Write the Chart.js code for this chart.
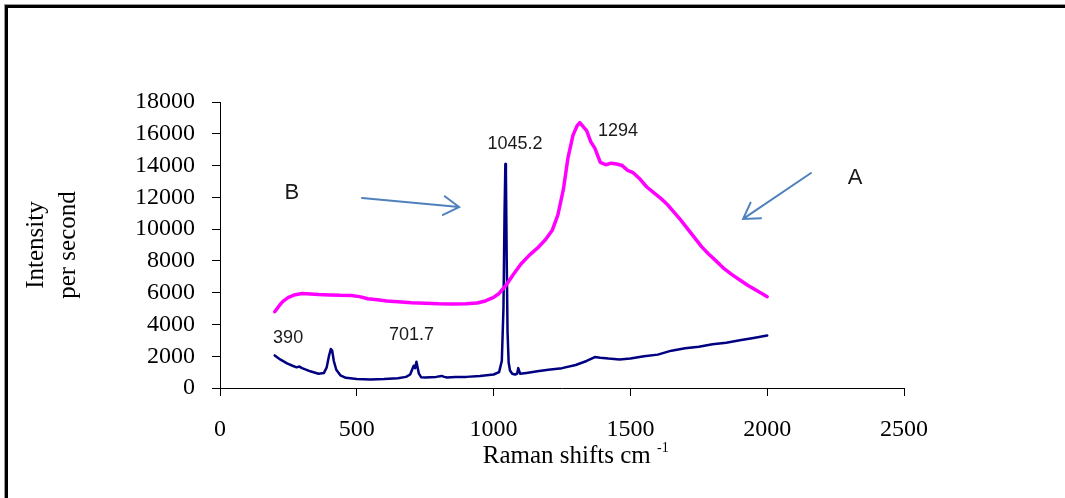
<!DOCTYPE html>
<html>
<head>
<meta charset="utf-8">
<script src="https://cdn.jsdelivr.net/npm/chart.js@4.4.0/dist/chart.umd.min.js"></script>
<style>
  body { margin: 0; background: #fff; overflow: hidden; }
  #frame { position: absolute; left: 5px; top: 5px; width: 1100px; height: 520px;
           border-top: 3px solid #000; border-left: 3px solid #000; box-shadow: -1px -1px 0 #999; }
  #wrap { position: absolute; left: 0; top: 0; width: 1065px; height: 498px; }
</style>
</head>
<body>
<div id="frame"></div>
<div id="wrap"><canvas id="myChart"></canvas></div>
<script>
// spectrum A (pink)
const A_SHIFT = [200, 215, 230, 250, 275, 300, 330, 360, 400, 440, 480, 510, 540, 575, 610, 650, 700, 750, 800, 850,
  900, 940, 970, 1000, 1020, 1045, 1070, 1100, 1130, 1160, 1190, 1215, 1235, 1255, 1272, 1290, 1305, 1315, 1325, 1340,
  1355, 1370, 1390, 1410, 1430, 1450, 1470, 1490, 1510, 1535, 1560, 1585, 1610, 1635, 1660, 1685, 1710, 1735, 1760,
  1785, 1810, 1840, 1870, 1900, 1930, 1960, 1985, 2000];
const A_INT = [4800, 5150, 5450, 5700, 5870, 5950, 5920, 5880, 5860, 5830, 5820, 5750, 5620, 5560, 5480, 5430, 5370, 5330, 5300, 5290,
  5300, 5350, 5480, 5700, 5950, 6450, 7100, 7800, 8350, 8800, 9350, 9950, 10900, 12500, 14500, 15900, 16500, 16700, 16500, 16200,
  15500, 15100, 14200, 14050, 14150, 14100, 14000, 13700, 13550, 13150, 12650, 12300, 11950, 11550, 11050, 10550, 10000, 9450, 8900,
  8450, 8050, 7550, 7150, 6800, 6450, 6150, 5900, 5750];

// spectrum B (navy)
const B_SHIFT = [200, 220, 245, 265, 280, 290, 300, 330, 360, 380, 390, 398, 405, 410, 416, 425, 440, 460, 500, 550,
  600, 650, 680, 695, 702, 708, 713, 718, 722, 727, 735, 750, 790, 810, 820, 830, 860, 900, 950, 1000,
  1020, 1030, 1036, 1040, 1043, 1045, 1048, 1051, 1055, 1060, 1068, 1078, 1086, 1090, 1097, 1120, 1160, 1200, 1250, 1300,
  1340, 1370, 1390, 1420, 1460, 1500, 1550, 1600, 1650, 1700, 1750, 1800, 1850, 1900, 1950, 2000];
const B_INT = [2050, 1800, 1550, 1400, 1300, 1350, 1250, 1050, 900, 950, 1300, 2000, 2450, 2350, 1700, 1150, 800, 640, 560, 540,
  560, 620, 700, 850, 1150, 1400, 1250, 1650, 1300, 900, 680, 660, 700, 760, 700, 660, 690, 700, 760, 850,
  1000, 1700, 5000, 11000, 14100, 13500, 8000, 3500, 1600, 1100, 900, 850, 900, 1250, 900, 950, 1050, 1150, 1250, 1450,
  1700, 1950, 1900, 1850, 1800, 1850, 2000, 2100, 2350, 2500, 2600, 2750, 2850, 3000, 3150, 3300];

// peak labels and markers, placed in data units
const PEAK_LABELS = ['390', '701.7', '1045.2', '1294'];
const PEAK_LABEL_X = [249, 700, 1078, 1455];
const PEAK_LABEL_Y = [3115, 3335, 15360, 16145];
const CURVE_NAMES = ['B', 'A'];
const CURVE_NAME_X = [263, 2321];
const CURVE_NAME_Y = [12305, 13250];
const ARROW_FROM_X = [519, 2160];
const ARROW_FROM_Y = [11960, 13530];
const ARROW_TO_X = [874, 1912];
const ARROW_TO_Y = [11390, 10640];

const X_TICKS = [0, 500, 1000, 1500, 2000, 2500];
const Y_TICKS = [0, 2000, 4000, 6000, 8000, 10000, 12000, 14000, 16000, 18000];

const SERIF = '"Liberation Serif", "Times New Roman", serif';
const SANS = '"Liberation Sans", Arial, sans-serif';

const notes = {
  id: 'notes',
  afterDraw(chart) {
    const c = chart.ctx;
    const xs = chart.scales.x, ys = chart.scales.y;
    c.save();
    c.fillStyle = '#1a1a1a';
    c.textAlign = 'center';
    c.textBaseline = 'middle';
    c.font = '18px ' + SANS;
    PEAK_LABELS.forEach((t, i) => {
      c.fillText(t, xs.getPixelForValue(PEAK_LABEL_X[i]), ys.getPixelForValue(PEAK_LABEL_Y[i]));
    });
    c.font = '22px ' + SANS;
    CURVE_NAMES.forEach((t, i) => {
      c.fillText(t, xs.getPixelForValue(CURVE_NAME_X[i]), ys.getPixelForValue(CURVE_NAME_Y[i]));
    });

    // arrows
    c.strokeStyle = '#4f81bd';
    c.lineWidth = 2;
    c.lineCap = 'round';
    for (let i = 0; i < ARROW_FROM_X.length; i++) {
      const x1 = xs.getPixelForValue(ARROW_FROM_X[i]), y1 = ys.getPixelForValue(ARROW_FROM_Y[i]);
      const x2 = xs.getPixelForValue(ARROW_TO_X[i]), y2 = ys.getPixelForValue(ARROW_TO_Y[i]);
      const a = Math.atan2(y1 - y2, x1 - x2);
      c.beginPath();
      c.moveTo(x1, y1);
      c.lineTo(x2, y2);
      c.moveTo(x2 + 18 * Math.cos(a + 0.55), y2 + 18 * Math.sin(a + 0.55));
      c.lineTo(x2, y2);
      c.lineTo(x2 + 18 * Math.cos(a - 0.55), y2 + 18 * Math.sin(a - 0.55));
      c.stroke();
    }

    // x axis title with superscript
    const main = 'Raman shifts cm ';
    const sup = '-1';
    c.fillStyle = '#000';
    c.textAlign = 'left';
    c.textBaseline = 'alphabetic';
    c.font = '25px ' + SERIF;
    const w1 = c.measureText(main).width;
    c.font = '14px ' + SERIF;
    const w2 = c.measureText(sup).width;
    const cx = xs.getPixelForValue(1300);
    const base = chart.chartArea.bottom + 75;
    let x0 = cx - (w1 + w2) / 2;
    c.font = '25px ' + SERIF;
    c.fillText(main, x0, base);
    c.font = '14px ' + SERIF;
    c.fillText(sup, x0 + w1, base - 11);
    c.restore();
  }
};

const ctx = document.getElementById('myChart');

new Chart(ctx, {
  type: 'line',
  data: {
    datasets: [{
      label: 'A',
      data: A_SHIFT.map((s, i) => ({x: s, y: A_INT[i]})),
      borderColor: '#ff00ff',
      borderWidth: 3.5,
      pointRadius: 0,
      tension: 0,
      borderJoinStyle: 'round',
      borderCapStyle: 'round'
    }, {
      label: 'B',
      data: B_SHIFT.map((s, i) => ({x: s, y: B_INT[i]})),
      borderColor: '#000080',
      borderWidth: 2.5,
      pointRadius: 0,
      tension: 0,
      borderJoinStyle: 'round',
      borderCapStyle: 'round'
    }]
  },
  options: {
    responsive: true,
    maintainAspectRatio: false,
    animation: false,
    devicePixelRatio: 1,
    layout: { padding: { left: 16, top: 102, right: 161, bottom: 0 } },
    plugins: {
      legend: { display: false },
      tooltip: { enabled: false }
    },
    scales: {
      x: {
        type: 'linear',
        min: 0,
        max: 2500,
        afterFit: s => { s.height = 110; },
        afterBuildTicks: s => { s.ticks = X_TICKS.map(v => ({value: v})); },
        ticks: {
          color: '#000',
          padding: 19,
          autoSkip: false,
          maxRotation: 0,
          font: { family: SERIF, size: 24, lineHeight: 1.2 },
          callback: v => String(v)
        },
        grid: { drawOnChartArea: false, drawTicks: true, tickLength: 8, color: '#000' },
        border: { color: '#000', width: 1 }
      },
      y: {
        min: 0,
        max: 18000,
        afterFit: s => { s.width = 204; },
        afterBuildTicks: s => { s.ticks = Y_TICKS.map(v => ({value: v})); },
        ticks: {
          color: '#000',
          padding: 17,
          autoSkip: false,
          font: { family: SERIF, size: 24, lineHeight: 1.2 },
          callback: v => String(v)
        },
        grid: { drawOnChartArea: false, drawTicks: true, tickLength: 8, color: '#000' },
        border: { color: '#000', width: 1 },
        title: {
          display: true,
          text: ['Intensity', 'per second'],
          color: '#000',
          padding: { top: 4, bottom: 0 },
          font: { family: SERIF, size: 25, lineHeight: 1.3 }
        }
      }
    }
  },
  plugins: [notes]
});
</script>
</body>
</html>
